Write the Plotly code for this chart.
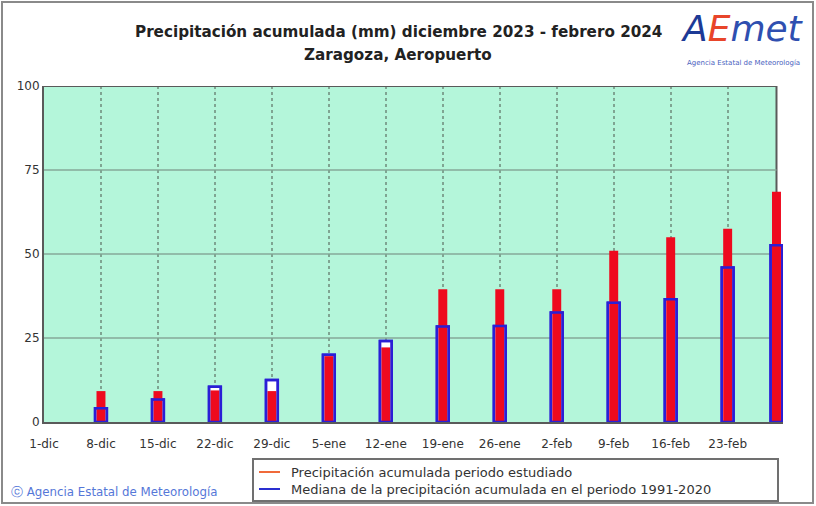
import plotly.graph_objects as go

# Fechas (acumulado semanal) y valores
fechas = ['2023-12-01', '2023-12-08', '2023-12-15', '2023-12-22', '2023-12-29',
          '2024-01-05', '2024-01-12', '2024-01-19', '2024-01-26', '2024-02-02',
          '2024-02-09', '2024-02-16', '2024-02-23', '2024-02-29']
precip_estudiado = [0, 9.2, 9.2, 9.4, 9.2, 19.6, 22.2, 39.5, 39.5, 39.5,
                    51.0, 55.0, 57.5, 68.5]
precip_mediana = [0, 4.1, 6.7, 10.5, 12.5, 20.0, 24.1, 28.4, 28.6, 32.6,
                  35.5, 36.5, 46.0, 52.6]

tick_fechas = fechas[:-1]
tick_textos = ['1-dic', '8-dic', '15-dic', '22-dic', '29-dic', '5-ene', '12-ene',
               '19-ene', '26-ene', '2-feb', '9-feb', '16-feb', '23-feb']
y_ticks = [0, 25, 50, 75, 100]

leyenda = ['Precipitación acumulada periodo estudiado',
           'Mediana de la precipitación acumulada en el periodo 1991-2020']
colores_leyenda = ['#f06a3a', '#2a2fd0']

DAY = 86400000
W, H = 816, 506
L, R, T, B = 44, 33, 86, 84
PW, PH = W - L - R, H - T - B
X_FIN = '2024-02-29 19:12'   # un poco más allá del último día para que la barra no se corte
FUENTE = 'DejaVu Sans, Verdana, sans-serif'


def px(x):
    return (x - L) / PW


def py(y):
    return (H - B - y) / PH


AZUL = '#2a1fd6'
borde = [0 if v == 0 else 2.5 for v in precip_mediana]

fig = go.Figure()

# Mediana: caja blanca con borde azul (fondo)
fig.add_trace(go.Bar(
    x=fechas, y=precip_mediana, width=1.45 * DAY,
    marker=dict(color='white', line=dict(color=AZUL, width=borde)),
    showlegend=False, hoverinfo='skip',
))
# Precipitación del periodo estudiado
fig.add_trace(go.Bar(
    x=fechas, y=precip_estudiado, width=1.1 * DAY,
    marker=dict(color='#ee0a1e', line=dict(width=0)),
    showlegend=False,
))
# Borde azul de la mediana encima
fig.add_trace(go.Bar(
    x=fechas, y=precip_mediana, width=1.45 * DAY,
    marker=dict(color='rgba(0,0,0,0)', line=dict(color=AZUL, width=borde)),
    showlegend=False, hoverinfo='skip',
))

shapes = [
    # marco exterior
    dict(type='rect', xref='paper', yref='paper',
         x0=px(2), x1=px(813), y0=py(503), y1=py(2),
         line=dict(color='#8a8a8a', width=2), fillcolor='rgba(0,0,0,0)', layer='below'),
    # franja blanca a la derecha del último día
    dict(type='rect', xref='x', yref='paper', x0=fechas[-1], x1=X_FIN, y0=0.003, y1=1.01,
         line=dict(width=0), fillcolor='white', layer='below'),
    # bordes superior y derecho del área de trazado
    dict(type='line', xref='x', yref='y', x0=fechas[0], x1=fechas[-1], y0=100, y1=100,
         line=dict(color='#5a5a5a', width=2)),
    dict(type='line', xref='x', yref='y', x0=fechas[-1], x1=fechas[-1], y0=0, y1=100,
         line=dict(color='#5a5a5a', width=2), layer='below'),
    # caja de la leyenda
    dict(type='rect', xref='paper', yref='paper',
         x0=px(253), x1=px(778), y0=py(501), y1=py(459),
         line=dict(color='#707070', width=2), fillcolor='white'),
]

# rejilla horizontal sólo hasta el último día
for v in y_ticks[1:-1]:
    shapes.append(dict(type='line', xref='x', yref='y', x0=fechas[0], x1=fechas[-1],
                       y0=v, y1=v, line=dict(color='#86a898', width=1.5), layer='below'))

annotations = [
    dict(text='<b>Precipitación acumulada (mm) diciembre 2023 - febrero 2024</b>',
         x=px(398), y=py(32), xref='paper', yref='paper', showarrow=False,
         font=dict(size=15.2, color='#222222', family=FUENTE),
         xanchor='center', yanchor='middle'),
    dict(text='<b>Zaragoza, Aeropuerto</b>',
         x=px(398), y=py(55), xref='paper', yref='paper', showarrow=False,
         font=dict(size=15.2, color='#222222', family=FUENTE),
         xanchor='center', yanchor='middle'),
    dict(text=("<i><span style='color:#1d3a96'>A</span>"
               "<span style='color:#e8452a'>E</span>"
               "<span style='color:#2f4fb0'>met</span></i>"),
         x=px(742), y=py(29), xref='paper', yref='paper', showarrow=False,
         font=dict(size=36, family='DejaVu Sans'), xanchor='center', yanchor='middle'),
    dict(text='Agencia Estatal de Meteorología',
         x=px(743), y=py(63), xref='paper', yref='paper', showarrow=False,
         font=dict(size=7, color='#4a62c0'), xanchor='center', yanchor='middle'),
    dict(text='ⓒ Agencia Estatal de Meteorología',
         x=px(9), y=py(492), xref='paper', yref='paper', showarrow=False,
         font=dict(size=11.8, color='#5577d8', family=FUENTE),
         xanchor='left', yanchor='middle'),
]

# Leyenda dibujada a mano
for i, (txt, col) in enumerate(zip(leyenda, colores_leyenda)):
    yy = 472 + 17 * i
    shapes.append(dict(type='line', xref='paper', yref='paper',
                       x0=px(259), x1=px(280), y0=py(yy), y1=py(yy),
                       line=dict(color=col, width=2)))
    annotations.append(dict(text=txt, x=px(289), y=py(yy), xref='paper', yref='paper',
                            showarrow=False, xanchor='left', yanchor='middle',
                            font=dict(size=13, color='#333333', family=FUENTE)))

fig.update_layout(
    width=W, height=H,
    margin=dict(l=L, r=R, t=T, b=B),
    paper_bgcolor='white',
    plot_bgcolor='#b4f6da',
    barmode='overlay',
    showlegend=False,
    font=dict(family=FUENTE, color='#333333', size=12),
    shapes=shapes,
    annotations=annotations,
    xaxis=dict(
        type='date',
        range=[fechas[0], X_FIN],
        tickvals=tick_fechas, ticktext=tick_textos,
        showgrid=True, gridcolor='#7fa592', gridwidth=1.5, griddash='dot',
        showline=True, linecolor='#5a5a5a', linewidth=2, mirror=False,
        ticks='', zeroline=False, ticklabelstandoff=10,
    ),
    yaxis=dict(
        range=[0, 100],
        tickvals=y_ticks,
        showgrid=False,
        showline=True, linecolor='#5a5a5a', linewidth=2, mirror=False,
        ticks='', zeroline=False,
    ),
)

# sin margen del <body>, para que la figura ocupe la ventana desde (0, 0)
fig.write_html('out.html', config={'displayModeBar': False},
               post_script="document.body.style.margin='0px';")
